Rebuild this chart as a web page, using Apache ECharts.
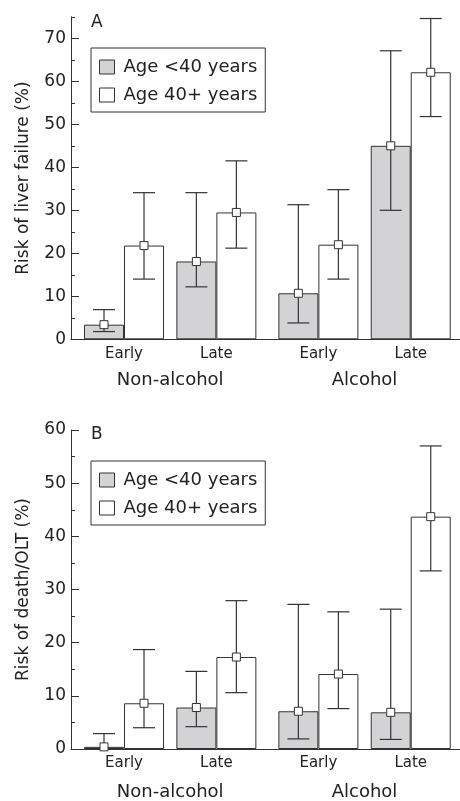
<!DOCTYPE html>
<html>
<head>
<meta charset="utf-8">
<script src="https://cdn.jsdelivr.net/npm/echarts@6/dist/echarts.min.js"></script>
<style>
html,body{margin:0;padding:0;background:#fff;}
#chart{width:460px;height:801px;}
</style>
</head>
<body>
<div id="chart"></div>
<script>
// ---- data ----
const categories = ['Early', 'Late', 'Early', 'Late'];
const groups = ['Non-alcohol', 'Alcohol'];
const seriesNames = ['Age <40 years', 'Age 40+ years'];

// Panel A: risk of liver failure (%)
const liverYoung     = [3.4, 18.1, 10.7, 45.0];
const liverYoungLow  = [1.8, 12.2, 3.8, 30.0];
const liverYoungHigh = [6.9, 34.1, 31.3, 67.1];
const liverOld       = [21.8, 29.5, 22.0, 62.1];
const liverOldLow    = [14.0, 21.2, 14.0, 51.8];
const liverOldHigh   = [34.1, 41.5, 34.8, 74.6];

// Panel B: risk of death/OLT (%)
const deathYoung     = [0.4, 7.8, 7.1, 6.9];
const deathYoungLow  = [0.0, 4.2, 1.9, 1.8];
const deathYoungHigh = [2.9, 14.6, 27.2, 26.3];
const deathOld       = [8.6, 17.3, 14.1, 43.7];
const deathOldLow    = [4.0, 10.6, 7.6, 33.5];
const deathOldHigh   = [18.7, 27.9, 25.8, 57.0];

const ticksA = [0, 10, 20, 30, 40, 50, 60, 70];
const minorA = [5, 15, 25, 35, 45, 55, 65, 75];
const ticksB = [0, 10, 20, 30, 40, 50, 60];
const minorB = [5, 15, 25, 35, 45, 55];

// ---- layout (category slot positions on a hidden numeric scale) ----
const GROUP_SEP = 0.1045;   // extra space between the two groups
const HALF = 0.2166;        // half bar width in slot units
const X_MIN = -0.574, X_MAX = 3.638;
const pos = i => i + Math.floor(i / 2) * GROUP_SEP;
const catPos = categories.map((c, i) => pos(i));
const groupPos = groups.map((g, k) => (pos(2 * k) + pos(2 * k + 1)) / 2);
const nearest = (arr, v) => {
  let best = 0;
  arr.forEach((p, i) => { if (Math.abs(p - v) < Math.abs(arr[best] - v)) best = i; });
  return best;
};

const TXT = '#222', LINE = '#333', GRAY = '#d3d3d5';
const FONT = 'DejaVu Sans';

function xAxes(grid, gm) {
  return [
    { gridIndex: grid, type: 'value', min: X_MIN, max: X_MAX,
      axisLine: { show: true, onZero: false, lineStyle: { color: LINE, width: 1 } },
      axisTick: { show: false }, splitLine: { show: false },
      axisLabel: { show: true, customValues: catPos, formatter: v => categories[nearest(catPos, v)],
        color: TXT, fontSize: 15, fontFamily: FONT, margin: 7, showMinLabel: true, showMaxLabel: true } },
    { gridIndex: grid, type: 'value', min: X_MIN, max: X_MAX, position: 'bottom',
      axisLine: { show: false, onZero: false }, axisTick: { show: false }, splitLine: { show: false },
      axisLabel: { show: true, customValues: groupPos, formatter: v => groups[nearest(groupPos, v)],
        color: TXT, fontSize: 18, fontFamily: FONT, margin: gm } }
  ];
}
function yAxes(grid, max, ticks, minor, name) {
  return [
    { gridIndex: grid, type: 'value', min: 0, max: max, position: 'left',
      name: name, nameLocation: 'middle', nameGap: 39,
      nameTextStyle: { color: TXT, fontSize: 17, fontFamily: FONT },
      axisLine: { show: true, onZero: false, lineStyle: { color: LINE, width: 1 } },
      axisTick: { show: true, inside: true, length: 8, customValues: ticks, lineStyle: { color: LINE } },
      axisLabel: { customValues: ticks, color: TXT, fontSize: 17, fontFamily: FONT, margin: 5 },
      splitLine: { show: false } },
    { gridIndex: grid, type: 'value', min: 0, max: max, position: 'left',
      axisLine: { show: false, onZero: false },
      axisTick: { show: true, inside: true, length: 4, customValues: minor, lineStyle: { color: LINE } },
      axisLabel: { show: false }, splitLine: { show: false } }
  ];
}

function panelSeries(xi, yi, young, yLow, yHigh, old, oLow, oHigh) {
  const barStyle = c => ({ color: c, borderColor: LINE, borderWidth: 1 });
  return [
    { name: seriesNames[0], type: 'bar', xAxisIndex: xi, yAxisIndex: yi,
      barWidth: 40, barGap: '-100%', itemStyle: barStyle(GRAY),
      data: young.map((v, i) => [catPos[i] - HALF, v]) },
    { name: seriesNames[1], type: 'bar', xAxisIndex: xi, yAxisIndex: yi,
      barWidth: 40, barGap: '-100%', itemStyle: barStyle('#ffffff'),
      data: old.map((v, i) => [catPos[i] + HALF, v]) },
    { type: 'custom', xAxisIndex: xi, yAxisIndex: yi, z: 5,
      data: yLow.map((l, i) => [catPos[i] - HALF, l, yHigh[i]])
        .concat(oLow.map((l, i) => [catPos[i] + HALF, l, oHigh[i]])),
      encode: { x: 0, y: [1, 2] },
      renderItem: (params, api) => {
        const x = api.value(0);
        const lo = api.coord([x, api.value(1)]);
        const hi = api.coord([x, api.value(2)]);
        const cw = 11;
        const st = { stroke: LINE, lineWidth: 1.2 };
        return { type: 'group', children: [
          { type: 'line', shape: { x1: lo[0], y1: lo[1], x2: hi[0], y2: hi[1] }, style: st },
          { type: 'line', shape: { x1: hi[0] - cw, y1: hi[1], x2: hi[0] + cw, y2: hi[1] }, style: st },
          { type: 'line', shape: { x1: lo[0] - cw, y1: lo[1], x2: lo[0] + cw, y2: lo[1] }, style: st }
        ] };
      } },
    { type: 'scatter', xAxisIndex: xi, yAxisIndex: yi, z: 6,
      symbol: 'rect', symbolSize: 8,
      itemStyle: { color: '#ffffff', borderColor: LINE, borderWidth: 1, opacity: 1 },
      data: young.map((v, i) => [catPos[i] - HALF, v]).concat(old.map((v, i) => [catPos[i] + HALF, v])) }
  ];
}

function legendAt(top) {
  return {
    data: seriesNames, orient: 'vertical', left: 91, top: top,
    icon: 'rect', itemWidth: 15, itemHeight: 14, itemGap: 10,
    padding: [10, 8, 8, 8], borderColor: LINE, borderWidth: 1, backgroundColor: '#fff',
    selectedMode: false,
    itemStyle: { borderColor: LINE, borderWidth: 1 },
    textStyle: { color: TXT, fontSize: 18, fontFamily: FONT, lineHeight: 14, padding: [0, 0, 0, 4] }
  };
}

const chart = echarts.init(document.getElementById('chart'), null, { renderer: 'canvas' });
chart.setOption({
  animation: false,
  backgroundColor: '#fff',
  textStyle: { fontFamily: FONT },
  title: [
    { text: 'A', left: 91, top: 14, padding: 0, textStyle: { color: TXT, fontSize: 17, fontWeight: 'normal', fontFamily: FONT } },
    { text: 'B', left: 91, top: 426, padding: 0, textStyle: { color: TXT, fontSize: 17, fontWeight: 'normal', fontFamily: FONT } }
  ],
  legend: [legendAt(48), legendAt(461)],
  grid: [
    { left: 71, right: 0, top: 16.8, height: 322.5 },
    { left: 71, right: 0, top: 430, height: 321.7 }
  ],
  xAxis: xAxes(0, 32).concat(xAxes(1, 34)),
  yAxis: yAxes(0, 75, ticksA, minorA, 'Risk of liver failure (%)')
    .concat(yAxes(1, 60, ticksB, minorB, 'Risk of death/OLT (%)')),
  series: panelSeries(0, 0, liverYoung, liverYoungLow, liverYoungHigh, liverOld, liverOldLow, liverOldHigh)
    .concat(panelSeries(2, 2, deathYoung, deathYoungLow, deathYoungHigh, deathOld, deathOldLow, deathOldHigh))
});
</script>
</body>
</html>
